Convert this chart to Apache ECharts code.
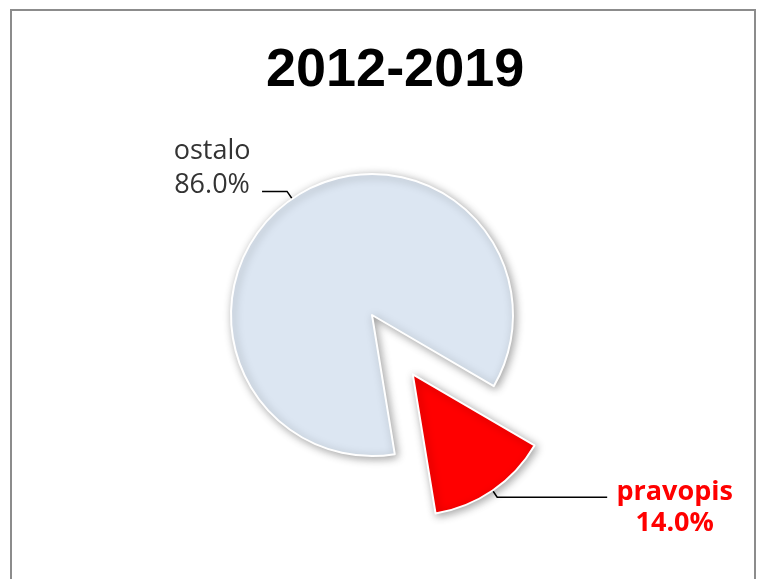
<!DOCTYPE html>
<html>
<head>
<meta charset="utf-8">
<script src="https://cdn.jsdelivr.net/npm/echarts@6/dist/echarts.min.js"></script>
<style>
    html, body { margin: 0; padding: 0; background: #fff; }
    #chart { width: 759px; height: 579px; }
</style>
</head>
<body>
<div id="chart"></div>
<script>
// podaci
var titleText = '2012-2019'
var categories = ['pravopis', 'ostalo']
var values = [14, 86]
var colors = ['#FF0000', '#DCE6F2']

var chart = echarts.init(document.getElementById('chart'))

function pct(p) {
    return p.percent.toFixed(1) + '%'
}

var option = {
    backgroundColor: '#fff',
    title: {
        text: titleText,
        left: 261,
        top: 39,
        textStyle: {
            fontFamily: 'Liberation Sans',
            fontSize: 54,
            fontWeight: 'bold',
            color: '#000',
        },
    },
    graphic: [
        {
            type: 'rect',
            shape: { x: 11, y: 10, width: 744, height: 600 },
            style: { fill: 'none', stroke: '#8c8c8c', lineWidth: 2 },
            silent: true,
        },
    ],
    series: [
        {
            type: 'pie',
            center: [372, 315],
            radius: 141,
            startAngle: -30.3,
            clockwise: true,
            selectedMode: 'single',
            selectedOffset: 72,
            animation: false,
            itemStyle: {
                borderColor: '#fff',
                borderWidth: 2,
                shadowBlur: 8,
                shadowOffsetX: 2,
                shadowOffsetY: 2,
                shadowColor: 'rgba(0, 0, 0, 0.35)',
            },
            labelLine: {
                show: true,
                length: 8,
                length2: 110,
                lineStyle: { color: '#000', width: 1.5 },
            },
            data: [
                {
                    name: categories[0],
                    value: values[0],
                    selected: true,
                    itemStyle: { color: colors[0] },
                    label: {
                        formatter: function (p) {
                            return '{a|' + p.name + '}\n{a|' + pct(p) + '}'
                        },
                        padding: [22, 0, 0, 0],
                        rich: {
                            a: {
                                width: 125,
                                align: 'center',
                                fontFamily: 'Open Sans',
                                fontSize: 27,
                                fontWeight: 'bold',
                                color: '#FF0000',
                                lineHeight: 31,
                            },
                        },
                    },
                },
                {
                    name: categories[1],
                    value: values[1],
                    itemStyle: { color: colors[1] },
                    label: {
                        formatter: function (p) {
                            return '{a|' + p.name + '}\n{a|' + pct(p) + '}'
                        },
                        padding: [0, 0, 46, 0],
                        rich: {
                            a: {
                                width: 90,
                                align: 'center',
                                fontFamily: 'Open Sans',
                                fontSize: 27,
                                color: '#333',
                                lineHeight: 34,
                            },
                        },
                    },
                    labelLine: { length: 9, length2: 25 },
                },
            ],
        },
    ],
}
option && chart.setOption(option)
</script>
</body>
</html>
